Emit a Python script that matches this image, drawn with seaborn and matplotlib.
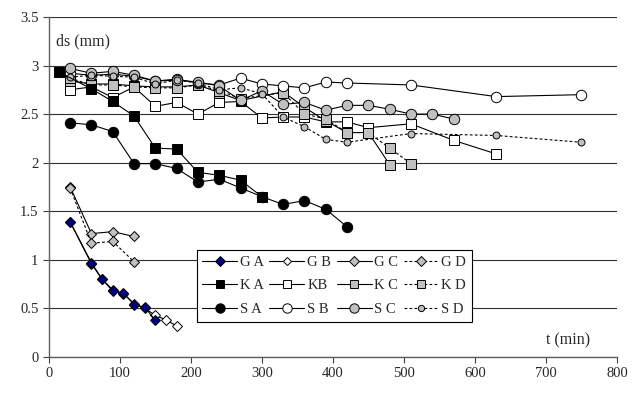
import matplotlib
matplotlib.use("Agg")
import matplotlib.pyplot as plt
import numpy as np
import pandas as pd
import seaborn as sns

# time (min) and ds (mm) per series
ga_t = [30, 60, 75, 90, 105, 120, 135, 150]
ga_y = [1.39, 0.97, 0.80, 0.68, 0.66, 0.54, 0.51, 0.38]
gb_t = [30, 60, 75, 90, 105, 120, 135, 150, 165, 180]
gb_y = [1.39, 0.96, 0.80, 0.69, 0.65, 0.55, 0.50, 0.43, 0.38, 0.32]
gc_t = [30, 60, 90, 120]
gc_y = [1.75, 1.27, 1.29, 1.24]
gd_t = [30, 60, 90, 120]
gd_y = [1.74, 1.17, 1.19, 0.98]

ka_t = [15, 60, 90, 120, 150, 180, 210, 240, 270, 300]
ka_y = [2.93, 2.76, 2.63, 2.48, 2.15, 2.14, 1.90, 1.87, 1.82, 1.65]
kb_t = [30, 60, 90, 120, 150, 180, 210, 240, 270, 300, 330, 360, 390, 420, 450, 510, 570, 630]
kb_y = [2.75, 2.78, 2.67, 2.78, 2.58, 2.62, 2.50, 2.62, 2.63, 2.46, 2.47, 2.47, 2.42, 2.42,
        2.36, 2.40, 2.23, 2.09]
kc_t = [30, 60, 90, 120, 150, 180, 210, 240, 270, 330, 360, 390, 420, 450, 480]
kc_y = [2.84, 2.81, 2.81, 2.79, 2.78, 2.78, 2.80, 2.72, 2.64, 2.73, 2.57, 2.43, 2.31, 2.31, 1.98]
kd_t = [30, 60, 90, 120, 150, 180, 210, 240, 270, 330, 360, 390, 420, 450, 480, 510]
kd_y = [2.87, 2.80, 2.80, 2.78, 2.77, 2.77, 2.80, 2.74, 2.66, 2.72, 2.50, 2.45, 2.31, 2.31,
        2.15, 1.99]

sa_t = [30, 60, 90, 120, 150, 180, 210, 240, 270, 300, 330, 360, 390, 420]
sa_y = [2.41, 2.39, 2.32, 1.99, 1.99, 1.94, 1.80, 1.83, 1.74, 1.65, 1.57, 1.61, 1.52, 1.34]
sb_t = [30, 60, 90, 120, 150, 180, 210, 240, 270, 300, 330, 360, 390, 420, 510, 630, 750]
sb_y = [2.92, 2.90, 2.91, 2.89, 2.84, 2.86, 2.82, 2.80, 2.87, 2.81, 2.79, 2.77, 2.83, 2.82,
        2.80, 2.68, 2.70]
sc_t = [30, 60, 90, 120, 150, 180, 210, 240, 270, 300, 330, 360, 390, 420, 450, 480, 510, 540, 570]
sc_y = [2.97, 2.92, 2.94, 2.90, 2.84, 2.85, 2.83, 2.79, 2.64, 2.74, 2.60, 2.62, 2.54, 2.59,
        2.59, 2.55, 2.50, 2.50, 2.45]
sd_t = [30, 60, 90, 120, 150, 180, 210, 240, 270, 300, 330, 360, 390, 420, 510, 630, 750]
sd_y = [2.88, 2.90, 2.89, 2.88, 2.81, 2.85, 2.82, 2.75, 2.77, 2.71, 2.47, 2.37, 2.24, 2.21,
        2.30, 2.28, 2.21]

x_ticks = [0, 100, 200, 300, 400, 500, 600, 700, 800]
y_ticks = [0, 0.5, 1, 1.5, 2, 2.5, 3, 3.5]

GRAY = "#c0c0c0"
NAVY = "#000080"
dash = (0, (2.5, 2))

# name, t, y, marker, face, size, linestyle
series = [
    ("G A", ga_t, ga_y, "D", NAVY, 5.5, "-"),
    ("K A", ka_t, ka_y, "s", "black", 7, "-"),
    ("S A", sa_t, sa_y, "o", "black", 7.5, "-"),
    ("G B", gb_t, gb_y, "D", "white", 5, "-"),
    ("KB", kb_t, kb_y, "s", "white", 7, "-"),
    ("S B", sb_t, sb_y, "o", "white", 7.5, "-"),
    ("G C", gc_t, gc_y, "D", GRAY, 5.5, "-"),
    ("K C", kc_t, kc_y, "s", GRAY, 7, "-"),
    ("S C", sc_t, sc_y, "o", GRAY, 7.5, "-"),
    ("G D", gd_t, gd_y, "D", GRAY, 5.5, dash),
    ("K D", kd_t, kd_y, "s", GRAY, 6.5, dash),
    ("S D", sd_t, sd_y, "o", GRAY, 5, dash),
]

sns.set_style("white")
plt.rcParams["font.family"] = ["Liberation Serif", "DejaVu Serif"]

fig = plt.figure(figsize=(6.34, 3.94), dpi=100)
ax = fig.add_axes([0.077, 0.094, 0.896, 0.863])

# draw in an order so the A series end up on top
draw_order = [3, 6, 9, 4, 7, 10, 5, 8, 11, 0, 1, 2]
drawn = {}
for i in draw_order:
    name, t, y, m, fc, ms, ls = series[i]
    df = pd.DataFrame({"t": t, "ds": y})
    sns.lineplot(data=df, x="t", y="ds", ax=ax, color="black", lw=0.8, linestyle=ls,
                 marker=m, markerfacecolor=fc, markeredgecolor="black",
                 markeredgewidth=0.7, markersize=ms, sort=False, legend=False)
    drawn[i] = ax.lines[-1]

handles = [drawn[i] for i in range(len(series))]
labels = [s[0] for s in series]

ax.set_xlim(0, 800)
ax.set_ylim(0, 3.5)
ax.set_xticks(x_ticks)
ax.set_yticks(y_ticks)
ax.set_yticklabels([f"{v:g}" for v in y_ticks])
ax.tick_params(axis="both", labelsize=10.5, length=4, width=0.8, direction="out",
               color="#404040", bottom=True, left=True)
ax.yaxis.grid(True, color="#303030", lw=0.8)
ax.set_axisbelow(True)
for side in ["top", "right"]:
    ax.spines[side].set_visible(False)
for side in ["left", "bottom"]:
    ax.spines[side].set_color("#606060")
    ax.spines[side].set_linewidth(1.0)
ax.set_xlabel("")
ax.set_ylabel("")

ax.text(10, 3.25, "ds (mm)", fontsize=11.5, ha="left", va="center")
ax.text(700, 0.17, "t (min)", fontsize=11.5, ha="left", va="center")

leg = ax.legend(handles, labels, ncol=4, loc="upper left", bbox_to_anchor=(0.26, 0.315),
                frameon=True, fancybox=False, edgecolor="black", framealpha=1,
                fontsize=10.5, handlelength=2.4, handletextpad=0.2, columnspacing=0.35,
                labelspacing=0.7, borderpad=0.4, borderaxespad=0, markerscale=0.9)
leg.get_frame().set_linewidth(0.8)

fig.savefig("out.png", dpi=100)
